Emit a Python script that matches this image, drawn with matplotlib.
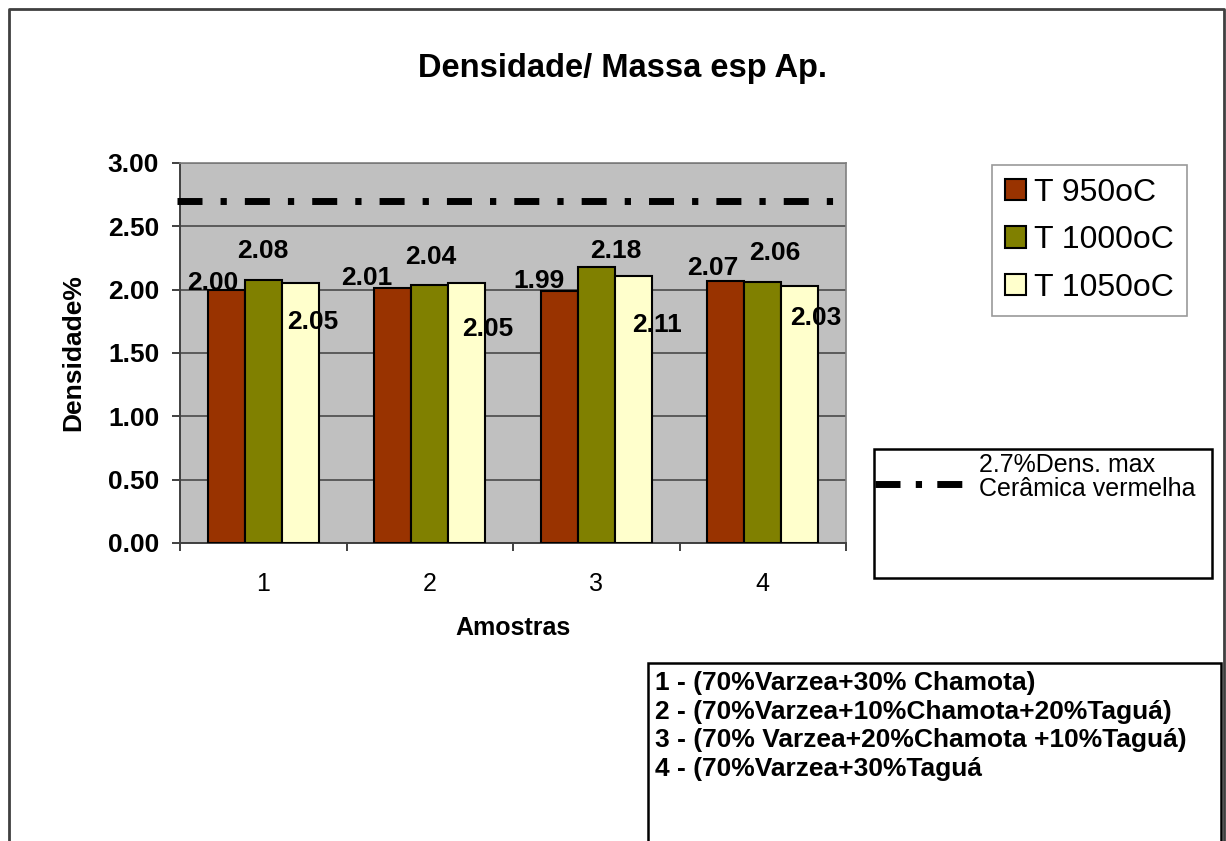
import matplotlib as mpl
import matplotlib.pyplot as plt
from matplotlib.lines import Line2D
from matplotlib.patches import Rectangle, Patch
import numpy as np

mpl.rcParams.update({
    "font.family": ["Liberation Sans", "DejaVu Sans"],
    "axes.linewidth": 1.4,
})

# ---- data ----
amostras = ["1", "2", "3", "4"]
series = ["T 950oC", "T 1000oC", "T 1050oC"]
t950 = [2.00, 2.01, 1.99, 2.07]
t1000 = [2.08, 2.04, 2.18, 2.06]
t1050 = [2.05, 2.05, 2.11, 2.03]
dens_max = 2.7
ref_lines = ["2.7%Dens. max", "Cerâmica vermelha"]
notas = [
    "1 - (70%Varzea+30% Chamota)",
    "2 - (70%Varzea+10%Chamota+20%Taguá)",
    "3 - (70% Varzea+20%Chamota +10%Taguá)",
    "4 - (70%Varzea+30%Taguá",
]

colors = ["#993300", "#808000", "#FFFFCC"]

# data label offsets (px) from bar top centre, per series / per group
lbl_dx = [[-13, -26, -20, -13], [0, 1, 20, 12], [12, 21, 24, 16]]
lbl_dy = [[7, 10, 10, 13], [29, 28, 16, 29], [-39, -46, -49, -32]]

W, H = 1226, 841
fig = plt.figure(figsize=(W / 100, H / 100), dpi=100)


def fx(px):
    return px / W


def fy(py):
    return 1 - py / H


# plot area
x0, x1, ytop, ybot = 180, 846, 163, 543
ax = fig.add_axes([fx(x0), fy(ybot), fx(x1) - fx(x0), fy(ytop) - fy(ybot)])
ax.set_facecolor("#C0C0C0")

x = np.arange(len(amostras))
bw = 1 / 4.5
for i, (vals, col, name) in enumerate(zip([t950, t1000, t1050], colors, series)):
    xs = x + (i - 1) * bw
    ax.bar(xs, vals, bw, color=col, edgecolor="black", linewidth=1.5,
           label=name, zorder=3)
    for j, (xx, v) in enumerate(zip(xs, vals)):
        ax.annotate(f"{v:.2f}", (xx, v),
                    xytext=(lbl_dx[i][j] * 0.72, lbl_dy[i][j] * 0.72),
                    textcoords="offset points", ha="center", va="center",
                    fontsize=19, fontweight="bold", zorder=5)

# reference line (max density, red ceramics)
ls_ref = (0, (3.6, 2.6, 0.9, 2.6))
ax.plot([-0.52, 3.5], [dens_max, dens_max], color="black", lw=5,
        linestyle=ls_ref, dash_capstyle="butt", clip_on=False, zorder=4)

ax.set_xlim(-0.5, 3.5)
ax.set_ylim(0, 3)
ax.set_yticks(np.arange(0, 3.01, 0.5))
ax.set_yticklabels([f"{v:.2f}" for v in np.arange(0, 3.01, 0.5)],
                   fontsize=19, fontweight="bold")
ax.yaxis.grid(True, color="#404040", lw=1.1, zorder=1)
ax.set_axisbelow(True)
ax.set_xticks(x)
ax.set_xticklabels(amostras, fontsize=18)
ax.set_xticks(np.arange(-0.5, 3.6, 1), minor=True)
ax.tick_params(axis="x", which="major", length=0, pad=21)
ax.tick_params(axis="x", which="minor", length=6, width=1.4, color="#404040")
ax.tick_params(axis="y", length=6, width=1.4, color="#404040", pad=9)

for s in ["left", "bottom"]:
    ax.spines[s].set_color("#404040")
for s in ["top", "right"]:
    ax.spines[s].set_color("#808080")
    ax.spines[s].set_linewidth(1.2)

ax.set_ylabel("Densidade%", fontsize=19, fontweight="bold")
ax.yaxis.set_label_coords(-0.143, 0.5)
ax.set_xlabel("Amostras", fontsize=18, fontweight="bold", va="center")
ax.xaxis.set_label_coords(0.5, -0.224)

fig.text(fx(622), fy(77), "Densidade/ Massa esp Ap.", ha="center",
         va="baseline", fontsize=23.5, fontweight="bold")

# series legend
handles = [Patch(facecolor=c, edgecolor="black", linewidth=1.5) for c in colors]
leg = fig.legend(handles, series, loc="upper left",
                 bbox_to_anchor=(fx(992), fy(165)), borderaxespad=0,
                 fontsize=23, frameon=True, fancybox=False,
                 handlelength=0.66, handleheight=0.66, handletextpad=0.25,
                 labelspacing=0.55, borderpad=0.4)
leg.get_frame().set_edgecolor("#808080")
leg.get_frame().set_linewidth(1.2)

# reference line key
fig.add_artist(Rectangle((fx(874), fy(578)), fx(1212) - fx(874),
                         fy(449) - fy(578), transform=fig.transFigure,
                         facecolor="white", edgecolor="black", lw=1.8))
fig.add_artist(Line2D([fx(875), fx(963)], [fy(484), fy(484)],
                      transform=fig.transFigure, color="black", lw=5,
                      linestyle=(0, (3.6, 2.2, 0.9, 2.2)),
                      dash_capstyle="butt"))
for k, line in enumerate(ref_lines):
    fig.text(fx(979), fy(472 + k * 24), line, ha="left", va="baseline",
             fontsize=18)

# sample composition notes
fig.add_artist(Rectangle((fx(648), fy(H + 10)), fx(1221) - fx(648),
                         fy(663) - fy(H + 10), transform=fig.transFigure,
                         facecolor="white", edgecolor="black", lw=1.8,
                         clip_on=False))
for k, nota in enumerate(notas):
    fig.text(fx(655), fy(683 + k * 28.7), nota, ha="left", va="center",
             fontsize=19, fontweight="bold")

# outer chart frame
fig.add_artist(Line2D([fx(9), fx(9), fx(1224), fx(1224)],
                      [fy(H + 5), fy(9), fy(9), fy(H + 5)],
                      transform=fig.transFigure, color="#404040", lw=2))

fig.savefig("out.png", dpi=100)
